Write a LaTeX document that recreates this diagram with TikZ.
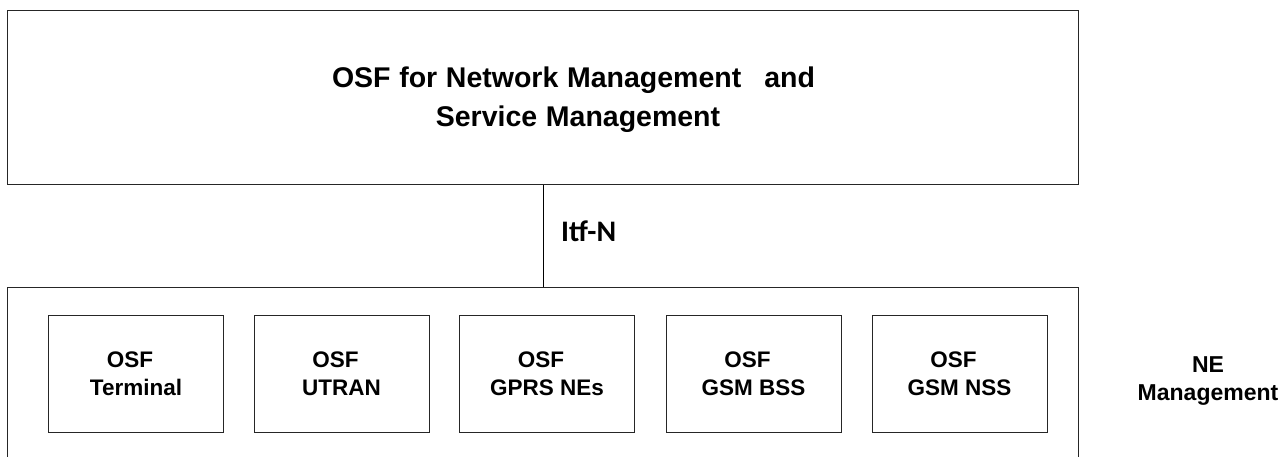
\documentclass[tikz,border=0pt]{standalone}
\usepackage{fontspec}
\setmainfont{Liberation Sans}
\newfontfamily\carlito{Carlito}
\newcommand\widesp{\spaceskip 8.7pt plus 0pt\relax}
\begin{document}
\begin{tikzpicture}[x=1pt,y=-1pt,
  frame/.style={draw=black!85, line width=1pt},
  osfbox/.style={draw=black!85, line width=1pt, minimum width=175pt, minimum height=117pt,
    inner sep=0pt, align=center, font=\fontsize{22.5}{28}\selectfont\bfseries},
  toptext/.style={inner sep=0pt, anchor=base, font={\fontsize{28.5}{39}\selectfont\bfseries\widesp}},
  conn/.style={draw=black, line width=1pt}]
\useasboundingbox (0,0) rectangle (1284,457);
% top box
\node[frame, minimum width=1071pt, minimum height=174pt, inner sep=0pt] (top) at (542.5,98) {};
\node[toptext] (t1) at (573.5,88) {OSF for Network Management\hspace{23pt}and};
\node[toptext] (t2) at (578,127) {Service Management};
% NE management box (open at the bottom)
\coordinate (nel) at (7,287);
\coordinate (ner) at (1078,287);
\coordinate (ne) at (543,287);
\draw[frame] (7,460) -- (nel) -- (ner) -- (1078,460);
% connector
\draw[conn] (top.south -| ne) -- (ne);
\node[inner sep=0pt, anchor=base west, font=\carlito\fontsize{29.8}{34}\selectfont\bfseries] (itf) at (561,241) {Itf-N};
% inner boxes
\node[osfbox] (b1) at (136,373.5) {OSF\kern12pt\\Terminal};
\node[osfbox] (b2) at (341.5,373.5) {OSF\kern12pt\\UTRAN};
\node[osfbox] (b3) at (547,373.5) {OSF\kern12pt\\GPRS NEs};
\node[osfbox] (b4) at (753.5,373.5) {OSF\kern12pt\\GSM BSS};
\node[osfbox] (b5) at (959.5,373.5) {OSF\kern12pt\\GSM NSS};
% label
\node[inner sep=0pt, align=center, font=\fontsize{23}{28}\selectfont\bfseries] (nem) at (1208,381.5) {NE\\Management};
\end{tikzpicture}
\end{document}
